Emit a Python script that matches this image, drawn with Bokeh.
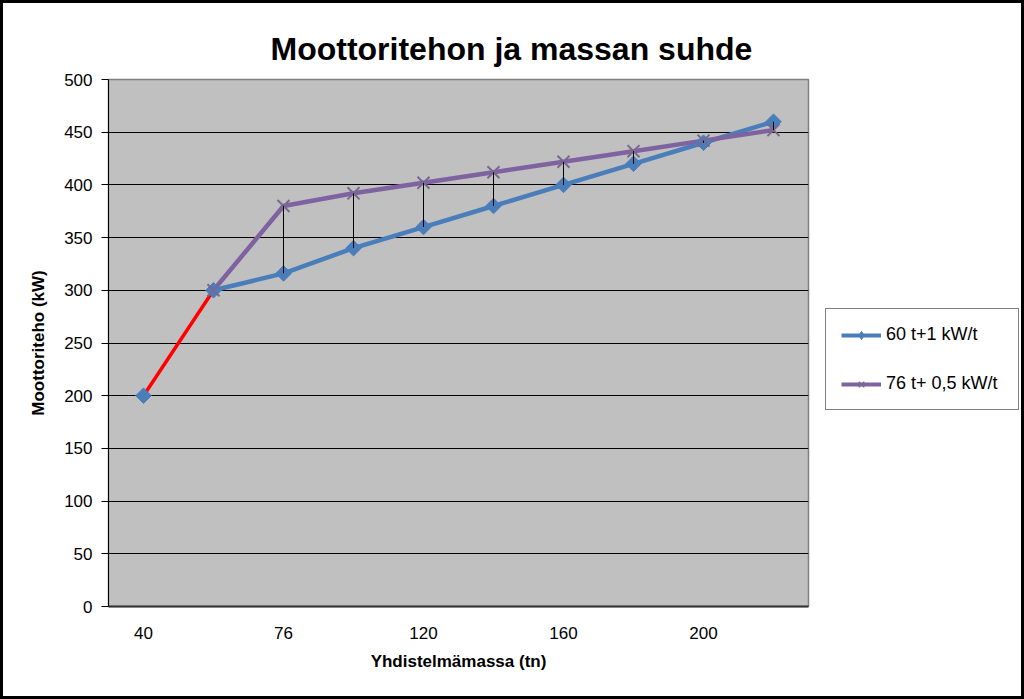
import numpy as np
from bokeh.plotting import figure
from bokeh.layouts import row
from bokeh.models import Legend, LegendItem, FixedTicker, Range1d
from bokeh.embed import file_html
from bokeh.resources import INLINE

# ---- data ----
categories = ["40", "60", "76", "100", "120", "140", "160", "180", "200", "220"]
shown_labels = {1: "40", 3: "76", 5: "120", 7: "160", 9: "200"}
series1_name = "60 t+1 kW/t"
series1 = [200, 300, 316, 340, 360, 380, 400, 420, 440, 460]
series2_name = "76 t+ 0,5 kW/t"
series2 = [None, 300, 380, 392, 402, 412, 422, 432, 442, 452]
y_ticks = [0, 50, 100, 150, 200, 250, 300, 350, 400, 450, 500]

pos = list(range(1, len(categories) + 1))
x2 = [p_ for p_, v in zip(pos, series2) if v is not None]
y2 = [v for v in series2 if v is not None]

FONT = "Liberation Sans"
BLUE = "#4A7EBB"
PURPLE = "#7F63A1"
XMARK = "#7A6890"

p = figure(width=825, height=699, output_backend="svg", toolbar_location=None,
           x_range=Range1d(0.5, len(categories) + 0.5), y_range=Range1d(0, 500),
           min_border_left=108, min_border_right=17, min_border_top=79, min_border_bottom=93)
p.background_fill_color = "#C0C0C0"
p.border_fill_alpha = 0
p.outline_line_color = "#808080"
p.outline_line_width = 1.5

# title
p.title.text = "Moottoritehon ja massan suhde"
p.title.text_font = FONT
p.title.text_font_size = "32px"
p.title.text_font_style = "bold"
p.title.text_color = "black"
p.title.align = "left"
p.title.offset = 162
p.title.standoff = 25

# axes
p.xaxis.ticker = FixedTicker(ticks=list(shown_labels.keys()))
p.xaxis.major_label_overrides = shown_labels
p.xaxis.major_tick_out = 0
p.xaxis.major_tick_in = 0
p.xaxis.minor_tick_out = 0
p.xaxis.minor_tick_in = 0
p.xaxis.axis_line_color = "#333333"
p.xaxis.axis_line_width = 2
p.xaxis.major_label_standoff = 20
p.xaxis.axis_label = "Yhdistelmämassa (tn)"
p.xaxis.axis_label_standoff = 10

p.yaxis.ticker = FixedTicker(ticks=y_ticks)
p.yaxis.major_tick_out = 7
p.yaxis.major_tick_in = 0
p.yaxis.minor_tick_out = 0
p.yaxis.minor_tick_in = 0
p.yaxis.axis_line_color = "black"
p.yaxis.major_tick_line_color = "black"
p.yaxis.major_label_standoff = 9
p.yaxis.axis_label = "Moottoriteho (kW)"
p.yaxis.axis_label_standoff = 13

for ax in (p.xaxis, p.yaxis):
    ax.major_label_text_font = FONT
    ax.major_label_text_font_size = "17px"
    ax.major_label_text_color = "black"
    ax.axis_label_text_font = FONT
    ax.axis_label_text_font_size = "17px"
    ax.axis_label_text_font_style = "bold"
    ax.axis_label_text_color = "black"

p.xgrid.grid_line_color = None
p.ygrid.ticker = FixedTicker(ticks=y_ticks)
p.ygrid.grid_line_color = "black"
p.ygrid.grid_line_width = 1

# series
r_red = p.line(pos[:2], series1[:2], line_color="red", line_width=3.5)
r_blue = p.line(pos[1:], series1[1:], line_color=BLUE, line_width=4.5)
r_purple = p.line(x2, y2, line_color=PURPLE, line_width=4.5)
r_bm = p.scatter(pos, series1, marker="square", size=11, angle=np.pi / 4,
                 fill_color=BLUE, line_color=BLUE)
r_pm = p.scatter(x2, y2, marker="x", size=17, line_color=XMARK, line_width=2)

# high-low lines
hl_x = [pos[i] for i in range(len(pos)) if series2[i] is not None]
hl_lo = [min(series1[i], series2[i]) for i in range(len(pos)) if series2[i] is not None]
hl_hi = [max(series1[i], series2[i]) for i in range(len(pos)) if series2[i] is not None]
p.segment(x0=hl_x, y0=hl_lo, x1=hl_x, y1=hl_hi, line_color="black", line_width=1)

# ---- legend panel (separate canvas on the right; its ranges keep the series out of view,
#      the renderers only provide the legend glyphs) ----
q = figure(width=199, height=699, output_backend="svg", toolbar_location=None,
           x_axis_location=None, y_axis_location=None,
           x_range=Range1d(-2, -1), y_range=Range1d(-2, -1),
           min_border_left=0, min_border_right=0, min_border_top=0, min_border_bottom=0)
q.outline_line_color = None
q.background_fill_alpha = 0
q.border_fill_alpha = 0
q.grid.grid_line_color = None
l_blue = q.line(pos[1:], series1[1:], line_color=BLUE, line_width=4)
l_bm = q.scatter(pos, series1, marker="diamond", size=13,
                 fill_color=BLUE, line_color=BLUE)
l_purple = q.line(x2, y2, line_color=PURPLE, line_width=4)
l_pm = q.scatter(x2, y2, marker="x", size=12, line_color=XMARK, line_width=1.5)

legend = Legend(items=[
    LegendItem(label=series1_name, renderers=[l_blue, l_bm]),
    LegendItem(label=series2_name, renderers=[l_purple, l_pm]),
], location=(0, 196))
legend.margin = 0
legend.padding = 15
legend.spacing = 28
legend.glyph_width = 40
legend.glyph_height = 20
legend.label_height = 20
legend.label_width = 117
legend.label_standoff = 5
legend.label_text_font = FONT
legend.label_text_font_size = "18px"
legend.label_text_color = "black"
legend.border_line_color = "black"
legend.border_line_width = 1
legend.background_fill_color = "white"
legend.background_fill_alpha = 1
q.add_layout(legend, "center")

layout = row(p, q, spacing=0)
layout.styles = {"background-color": "white", "box-shadow": "inset 0 0 0 3px black"}

open("out.html", "w").write(file_html(layout, INLINE))
